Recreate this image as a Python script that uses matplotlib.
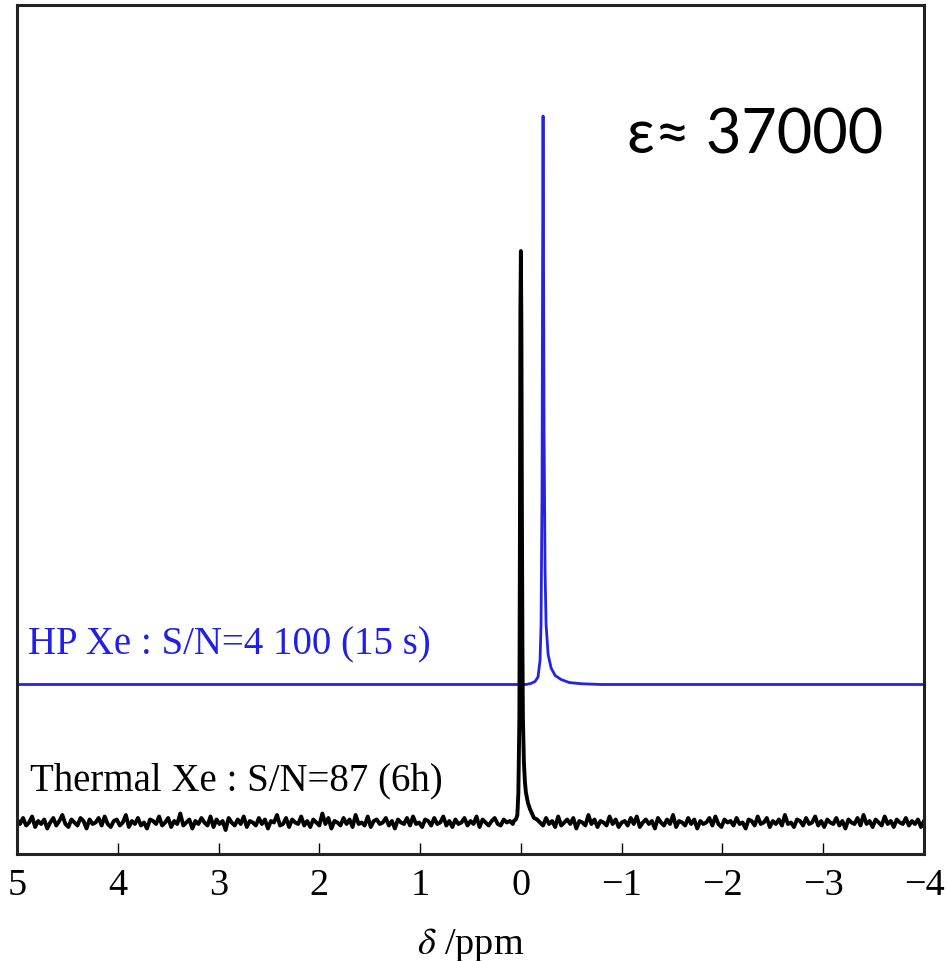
import numpy as np
import matplotlib
matplotlib.use("Agg")
import matplotlib.pyplot as plt

# ---------------- data (intensity in arbitrary units) ----------------
x_ticks = [5, 4, 3, 2, 1, 0, -1, -2, -3, -4]

# thermal Xe spectrum: baseline noise (left of peak), peak, baseline noise (right of peak)
thermal_offset = 21
thermal_left_ppm = np.arange(5.0, 0.075, -0.03)
thermal_left_noise = [2,-1,3,-2,0,4,-3,1,-1,2,-4,0,3,-2,1,5,-1,-3,2,0,
                      -2,3,1,-4,2,-1,0,3,-2,4,-1,-3,1,2,-2,0,5,-3,1,-1,
                      3,-2,0,-4,2,1,-1,4,-2,0,3,-3,1,-1,6,-2,0,2,-4,1,
                      -1,3,0,-2,4,-3,2,-1,1,-5,3,0,-2,2,-1,4,-3,1,0,-2,
                      3,-1,2,-4,1,0,5,-2,-1,3,-3,2,0,-1,4,-2,1,-3,2,0,
                      -2,6,-1,3,-4,1,0,-2,3,-1,2,-3,5,-1,0,-2,4,-3,1,2,
                      -1,0,3,-2,1,-4,2,0,-1,3,-2,4,-1,0,-3,2,1,-2,3,-1,
                      0,4,-2,1,-3,2,-1,0,3,-2,1,-1,4,-3,2,0,-2,1,3,-1,
                      -2,2,0,1,-1]
thermal_peak_ppm = [0.07, 0.05, 0.035, 0.025, 0.015, 0.01, 0.005, 0.0, -0.005,
                    -0.01, -0.015, -0.02, -0.03, -0.04, -0.05, -0.07, -0.09,
                    -0.11, -0.13]
thermal_peak_int = [1, 2, 5, 20, 70, 180, 340, 381, 330,
                    210, 120, 70, 40, 27, 20, 13, 9, 6, 3]
thermal_right_ppm = np.arange(-0.16, -4.005, -0.03)
thermal_right_noise = [2,0,-2,3,-1,1,-3,4,-2,0,2,-1,3,-4,1,0,-2,5,-1,2,
                       -3,1,0,-2,4,-1,2,-3,0,1,-2,3,-1,4,-3,0,2,-1,1,-4,
                       3,0,-2,2,-1,5,-3,1,0,-2,3,-1,2,-4,1,-1,0,3,-2,4,
                       -1,-3,2,0,1,-2,3,-1,0,-4,2,1,-2,4,-1,0,3,-3,1,-1,
                       2,-2,5,-1,0,-3,2,1,-2,3,-1,0,4,-2,1,-3,2,0,-1,3,
                       -2,1,-4,2,0,-1,3,-2,5,-1,1,-3,2,0,-2,4,-1,1,-3,2,
                       0,-1,3,-2,1,-1,2,-3,1]

# hyperpolarised Xe spectrum
hp_offset = 113
hp_ppm = [5.0, -0.05, -0.10, -0.14, -0.17, -0.19, -0.20, -0.21, -0.215, -0.22,
          -0.225, -0.23, -0.24, -0.25, -0.27, -0.30, -0.34, -0.40, -0.48, -0.60,
          -0.80, -4.0]
hp_int = [0, 0, 0.7, 2, 5, 16, 40, 130, 270, 379,
          280, 170, 75, 40, 20, 11, 6, 3.3, 1.3, 0.5,
          0, 0]

hp_label = "HP Xe : S/N=4 100 (15 s)"
thermal_label = "Thermal Xe : S/N=87 (6h)"
eps_label = "ε≈ 37000"

# ---------------- plotting ----------------
plt.rcParams["font.family"] = ["Liberation Serif", "DejaVu Serif"]
plt.rcParams["mathtext.fontset"] = "stix"

fig = plt.figure(figsize=(9.48, 9.62), dpi=100)
ax = fig.add_axes([17 / 948, 107 / 962, 907 / 948, 849 / 962])

thermal_ppm = np.concatenate([thermal_left_ppm, thermal_peak_ppm, thermal_right_ppm])
thermal_int = np.concatenate([thermal_left_noise, thermal_peak_int, thermal_right_noise]) + thermal_offset
hp_y = np.array(hp_int) + hp_offset

ax.plot(hp_ppm, hp_y, color="#2323e6", lw=2.0, solid_joinstyle="round")
ax.plot(thermal_ppm, thermal_int, color="black", lw=2.8, solid_joinstyle="round")

ax.set_xlim(5, -4)
ax.set_ylim(0, 566)
ax.set_xticks(x_ticks)
ax.set_yticks([])
ax.tick_params(axis="x", direction="in", length=8, width=1, labelsize=27.5, pad=10, top=False)
for s in ax.spines.values():
    s.set_linewidth(2.2)
    s.set_color("#222222")

ax.set_xlabel(r"$\delta$ /ppm", fontsize=27.5, labelpad=16)

ax.text(4.89, 134, hp_label, color="#1f1fe8", fontsize=28, va="baseline", ha="left")
ax.text(4.87, 43, thermal_label, color="black", fontsize=28, va="baseline", ha="left")
ax.text(-1.05, 468, eps_label, color="black", fontsize=44, va="baseline", ha="left",
        family=["Lato", "DejaVu Sans"])

fig.savefig("out.png", dpi=100)
